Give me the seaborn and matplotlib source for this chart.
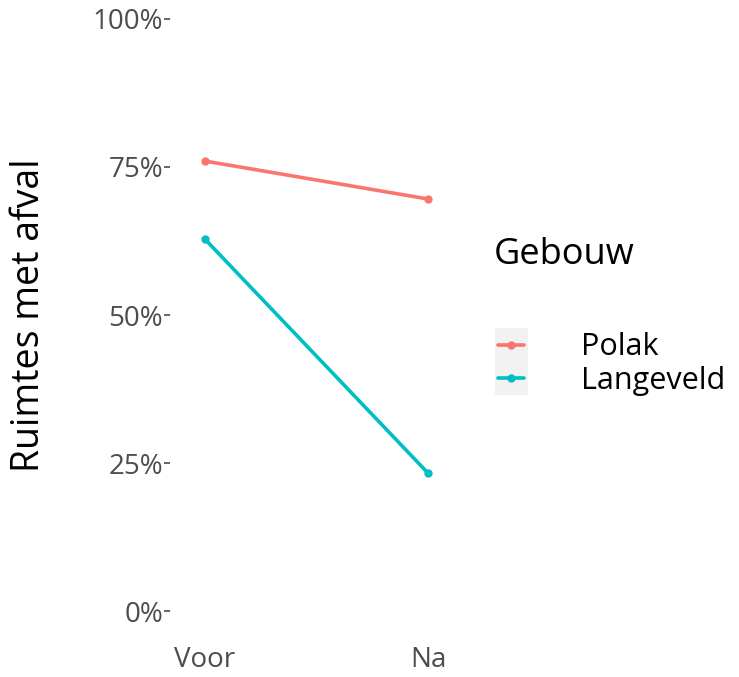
import matplotlib.pyplot as plt
import matplotlib.patches as mpatches
import pandas as pd
import seaborn as sns
from matplotlib.ticker import PercentFormatter

# data
periodes = ['Voor', 'Na']
gebouwen = ['Polak', 'Langeveld']
polak = [0.760, 0.696]
langeveld = [0.628, 0.233]
kleuren = ['#F8766D', '#00BFC4']

df = pd.DataFrame({
    'periode': periodes * 2,
    'gebouw': [gebouwen[0]] * 2 + [gebouwen[1]] * 2,
    'aandeel': polak + langeveld,
})

sns.set_style('white')
plt.rcParams['font.family'] = ['Open Sans', 'DejaVu Sans']
plt.rcParams['text.color'] = 'black'
plt.rcParams['axes.labelcolor'] = 'black'

W, H = 739, 677
fig = plt.figure(figsize=(W / 100, H / 100), dpi=100)
ax = fig.add_axes([170 / W, 1 - 620 / H, (461 - 170) / W, (620 - 10) / H])

sns.lineplot(data=df, x='periode', y='aandeel', hue='gebouw', hue_order=gebouwen,
             palette=kleuren, marker='o', markersize=6, markeredgewidth=0,
             linewidth=2.6, ax=ax, legend=True)

ax.set_xlim(-0.157, 1.148)
ax.set_ylim(-0.0152, 1.0152)
ax.set_yticks([0, 0.25, 0.5, 0.75, 1.0])
ax.yaxis.set_major_formatter(PercentFormatter(1.0, decimals=0))
for s in ax.spines.values():
    s.set_visible(False)
ax.tick_params(axis='y', length=4, width=1.2, color='#4D4D4D', labelcolor='#4D4D4D',
               labelsize=20, pad=1, left=True)
ax.tick_params(axis='x', length=0, labelcolor='#4D4D4D', labelsize=20, pad=19)
ax.set_xlabel('')
ax.set_ylabel('Ruimtes met afval', fontsize=27, color='black')
ax.yaxis.set_label_coords(-0.42, 0.5)

handles, labels = ax.get_legend_handles_labels()
ax.get_legend().remove()

fig.text(494 / W, 1 - 255 / H, 'Gebouw', fontsize=26, va='center', ha='left', color='black')
fig.patches.append(mpatches.Rectangle((495 / W, 1 - 395 / H), 33 / W, 67 / H,
                                      transform=fig.transFigure, facecolor='#F2F2F2',
                                      edgecolor='none', zorder=0))
leg = fig.legend(handles, labels, loc='center left', bbox_to_anchor=(495 / W, 1 - 364 / H),
                 frameon=False, fontsize=22, handlelength=0.85, handletextpad=1.85,
                 labelspacing=0.1, borderpad=0, borderaxespad=0.1)
for t in leg.get_texts():
    t.set_color('black')

fig.savefig('out.png', dpi=100)
